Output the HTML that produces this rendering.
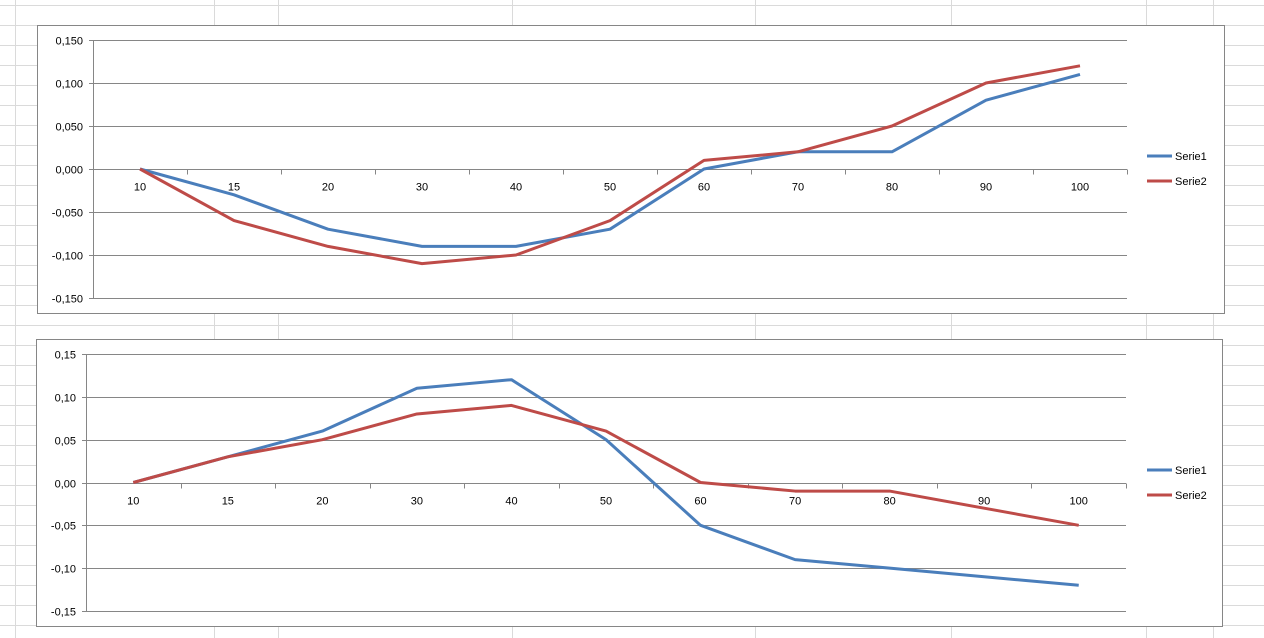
<!DOCTYPE html>
<html><head><meta charset="utf-8"><style>
body{margin:0;width:1264px;height:638px;overflow:hidden;background:#fff;font-family:"Liberation Sans",sans-serif;}
svg{position:absolute;left:0;top:0}
</style></head><body>
<svg id="s" width="1264" height="638"></svg>
<script>
const categories=["10","15","20","30","40","50","60","70","80","90","100"];
const c1s1=[0,-0.03,-0.07,-0.09,-0.09,-0.07,0,0.02,0.02,0.08,0.11];
const c1s2=[0,-0.06,-0.09,-0.11,-0.10,-0.06,0.01,0.02,0.05,0.10,0.12];
const c2s1=[0,0.03,0.06,0.11,0.12,0.05,-0.05,-0.09,-0.10,-0.11,-0.12];
const c2s2=[0,0.03,0.05,0.08,0.09,0.06,0,-0.01,-0.01,-0.03,-0.05];
const ticks1=["0,150","0,100","0,050","0,000","-0,050","-0,100","-0,150"];
const ticks2=["0,15","0,10","0,05","0,00","-0,05","-0,10","-0,15"];
const tickVals=[0.15,0.1,0.05,0,-0.05,-0.1,-0.15];
const NS="http://www.w3.org/2000/svg";
const svg=document.getElementById('s');
function mk(t,a,p){const e=document.createElementNS(NS,t);for(const k in a)e.setAttribute(k,a[k]);(p||svg).appendChild(e);return e;}
// spreadsheet grid
const bg=mk('g',{});


for(let y=5;y<638;y+=20)mk('line',{x1:0,x2:1264,y1:y+.5,y2:y+.5,stroke:'#dadada'},bg);
[15,214,278,512,755,951,1146,1213].forEach(x=>mk('line',{x1:x+.5,x2:x+.5,y1:0,y2:638,stroke:'#dadada'},bg));
function chart(o){
  const g=mk('g',{});
  
  
  mk('rect',{x:o.bx+.5,y:o.by+.5,width:o.bw,height:o.bh,fill:'#fff',stroke:'#868686'},g);
  const yS=v=>o.top+(0.15-v)/0.3*(o.bot-o.top);
  const step=(o.right-o.left)/categories.length;
  const xS=i=>o.left+step*(i+0.5);
  tickVals.forEach((v,i)=>{
    const y=Math.round(yS(v))+.5;
    mk('line',{x1:o.left-4,x2:o.right,y1:y,y2:y,stroke:'#868686'},g);
    const t=mk('text',{x:o.left-10,y:y+4,'text-anchor':'end','font-size':11,fill:'#000'},g);
    t.textContent=o.ticks[i];
    
    
  });
  mk('line',{x1:o.left+.5,x2:o.left+.5,y1:o.top,y2:o.bot,stroke:'#868686'},g);
  const y0=Math.round(yS(0))+.5;
  for(let i=0;i<=categories.length;i++){const x=Math.round(o.left+step*i)+.5;mk('line',{x1:x,x2:x,y1:y0,y2:y0+5,stroke:'#868686'},g);}
  categories.forEach((c,i)=>{
    const t=mk('text',{x:xS(i),y:y0+21,'text-anchor':'middle','font-size':11,fill:'#000'},g);
    t.textContent=c;
    
    
  });
  [[o.s1,'#4a7ebb','Serie1'],[o.s2,'#be4b48','Serie2']].forEach(([d,col,n],k)=>{
    const p=mk('polyline',{points:d.map((v,i)=>xS(i)+','+yS(v)).join(' '),fill:'none',stroke:col,'stroke-width':3,'stroke-linejoin':'round'},g);
    
    
    const ly=o.legY+k*25;
    const lg=mk('g',{},g);
    
    
    mk('line',{x1:1147,x2:1172,y1:ly,y2:ly,stroke:col,'stroke-width':3},lg);
    const t=mk('text',{x:1175,y:ly+4,'font-size':11,fill:'#000'},lg);
    t.textContent=n;
  });
}
chart({name:'chart-top',bx:37,by:25,bw:1187,bh:288,left:93,right:1127,top:40,bot:298,ticks:ticks1,s1:c1s1,s2:c1s2,legY:156});
chart({name:'chart-bottom',bx:36,by:339,bw:1186,bh:287,left:86,right:1126,top:354,bot:611,ticks:ticks2,s1:c2s1,s2:c2s2,legY:470});
</script>
</body></html>
